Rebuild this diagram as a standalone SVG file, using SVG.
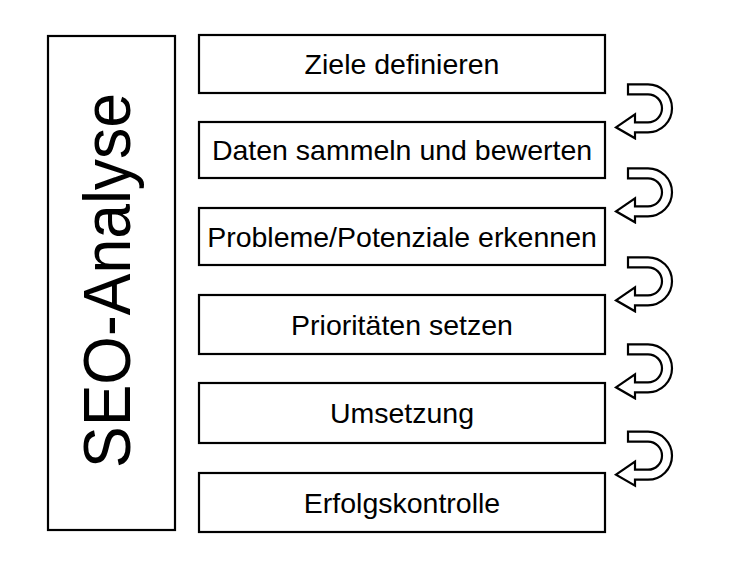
<svg xmlns="http://www.w3.org/2000/svg" width="750" height="563" viewBox="0 0 750 563">
<style>
.box{fill:#fff;stroke:#000;stroke-width:2.2}
.lbl{font-family:"Liberation Sans",Arial,sans-serif;font-size:28.5px;fill:#000;text-anchor:middle}
.arr{fill:#fff;stroke:#000;stroke-width:2.2;stroke-linejoin:miter}
</style>
<defs>
<path id="uturn" d="M628 0 L648 0 A24 24 0 0 1 648 48 L635 48 L635 54 L616 43 L635 30 L635 38 L648 38 A14 14 0 0 0 648 10 L628 10 Z"/>
</defs>
<rect width="750" height="563" fill="#fff"/>
<g id="seo">
<rect class="box" x="48" y="36" width="127" height="494"/>
<text font-family="Liberation Sans,Arial,sans-serif" font-size="66" text-anchor="middle" textLength="375" lengthAdjust="spacingAndGlyphs" transform="translate(130,280.5) rotate(-90)">SEO-Analyse</text>
</g>
<g id="n1"><rect class="box" x="199" y="35" width="406" height="58"/><text class="lbl" x="402" y="74">Ziele definieren</text></g>
<g id="n2"><rect class="box" x="199" y="122" width="406" height="56"/><text class="lbl" x="402" y="160">Daten sammeln und bewerten</text></g>
<g id="n3"><rect class="box" x="199" y="208" width="406" height="57"/><text class="lbl" x="402" y="246.5">Probleme/Potenziale erkennen</text></g>
<g id="n4"><rect class="box" x="199" y="295" width="406" height="59"/><text class="lbl" x="402" y="334.5">Prioritäten setzen</text></g>
<g id="n5"><rect class="box" x="199" y="383" width="406" height="60"/><text class="lbl" x="402" y="423">Umsetzung</text></g>
<g id="n6"><rect class="box" x="199" y="473" width="406" height="59"/><text class="lbl" x="402" y="512.5">Erfolgskontrolle</text></g>
<g id="connectors">
<use href="#uturn" class="arr" transform="translate(0,84.3)"/>
<use href="#uturn" class="arr" transform="translate(0,168.3)"/>
<use href="#uturn" class="arr" transform="translate(0,257.3)"/>
<use href="#uturn" class="arr" transform="translate(0,344.3)"/>
<use href="#uturn" class="arr" transform="translate(0,431.7)"/>
</g>
</svg>
